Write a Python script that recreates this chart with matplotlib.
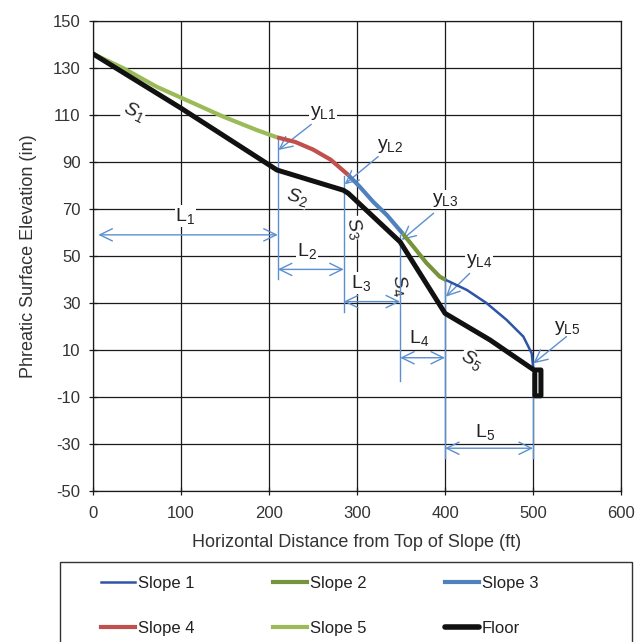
import matplotlib
matplotlib.use("Agg")
import matplotlib.pyplot as plt
from matplotlib.lines import Line2D
from matplotlib.patches import Rectangle

plt.rcParams['font.family'] = ['Liberation Sans', 'DejaVu Sans']
plt.rcParams['mathtext.fontset'] = 'custom'
plt.rcParams['mathtext.rm'] = 'Liberation Sans'
plt.rcParams['mathtext.it'] = 'Liberation Sans:italic'
plt.rcParams['axes.unicode_minus'] = False

# ---- data ----
slope5_x = [0, 34.5, 72.4, 110, 148, 186, 209]
slope5_y = [136, 129.9, 122, 115.7, 109.3, 103.6, 100.5]
slope4_x = [209, 230, 250, 270, 290]
slope4_y = [100.5, 98.5, 95.3, 91, 84.5]
slope3_x = [290, 303, 318.5, 334, 352]
slope3_y = [84.5, 79.5, 73, 67.4, 59.5]
slope2_x = [352, 364, 379, 394, 401]
slope2_y = [59.5, 54, 47, 41.2, 39.8]
slope1_x = [401, 425, 447, 470, 489, 498.5, 500.5]
slope1_y = [39.8, 35.5, 30, 22.8, 15.7, 8.6, 1.5]
floor_x = [0, 100, 209, 246.6, 284.4, 290, 349, 400, 451, 501, 509, 509, 502, 502]
floor_y = [136, 112.9, 86.6, 82.3, 78, 76.7, 56, 25.6, 14.3, 1.5, 1.5, -9.5, -9.5, 0]

# annotation geometry
vlines_x = [210, 285, 349, 400, 500]
vlines_top = [100.5, 84, 59, 40, 1]
vlines_bot = [40, 26, -3, -36, -36]
L_y = [59, 44.3, 30.6, 6.7, -31.8]
L_x0 = [6, 210, 285, 349, 400]
L_x1 = [210, 285, 349, 400, 500]
L_lab_x = [105, 243, 305, 370, 446]
L_lab_y = [67, 52, 38.4, 15, -25]
yL_lab_x = [261, 338, 400, 439, 539]
yL_lab_y = [111, 97, 74, 48, 19.5]
yL_from_x = [248, 324, 387, 428, 538]
yL_from_y = [106, 92.3, 68.2, 42.6, 15.7]
yL_to_x = [210.6, 286, 350.8, 401, 500.4]
yL_to_y = [95.1, 80.5, 56.8, 32.7, 4.3]
S_x = [47, 231.5, 297.7, 349, 430]
S_y = [111.3, 75.2, 61.8, 37.7, 5.7]
S_rot = [-25, -15, -75, -80, -30]

fig = plt.figure(figsize=(6.38, 6.42), dpi=100)
ax = fig.add_axes([0.1458, 0.2352, 0.8276, 0.7321])

ax.set_xlim(0, 600)
ax.set_ylim(-50, 150)
ax.set_xticks(range(0, 601, 100))
ax.set_yticks(range(-50, 151, 20))
ax.grid(True, color='#1a1a1a', linewidth=0.9, zorder=0)
ax.set_axisbelow(True)
for s in ax.spines.values():
    s.set_color('#1a1a1a')
    s.set_linewidth(0.9)
ax.tick_params(direction='inout', length=6, width=0.9, colors='#1a1a1a',
               labelsize=12, labelcolor='#333333')
ax.tick_params(axis='x', pad=8)
ax.tick_params(axis='y', pad=6)
ax.set_xlabel('Horizontal Distance from Top of Slope (ft)', fontsize=13,
              color='#333333', labelpad=9)
ax.set_ylabel('Phreatic Surface Elevation (in)', fontsize=13,
              color='#333333', labelpad=11)

acol = '#5b8fd0'
# vertical annotation lines
for x, t, b in zip(vlines_x, vlines_top, vlines_bot):
    ax.plot([x, x], [t, b], color=acol, lw=1.0, zorder=4)

# L arrows
for x0, x1, y in zip(L_x0, L_x1, L_y):
    ax.annotate('', xy=(x1, y), xytext=(x0, y),
                arrowprops=dict(arrowstyle='<->,head_length=0.45,head_width=0.22',
                                color=acol, lw=1.0, shrinkA=0, shrinkB=0,
                                mutation_scale=20), zorder=4)
for i, (x, y) in enumerate(zip(L_lab_x, L_lab_y)):
    ax.text(x, y, r'$\mathrm{L}_{\mathrm{%d}}$' % (i + 1), fontsize=14,
            ha='center', va='center', color='#222222',
            bbox=dict(fc='white', ec='none', pad=0.5), zorder=2)

# yL pointers
for i in range(5):
    ax.annotate('', xy=(yL_to_x[i], yL_to_y[i]), xytext=(yL_from_x[i], yL_from_y[i]),
                arrowprops=dict(arrowstyle='->,head_length=0.45,head_width=0.22',
                                color=acol, lw=1.0, shrinkA=0, shrinkB=0,
                                mutation_scale=20), zorder=4)
    ax.text(yL_lab_x[i], yL_lab_y[i], r'$\mathrm{y}_{\mathrm{L%d}}$' % (i + 1),
            fontsize=14, ha='center', va='center', color='#222222',
            bbox=dict(fc='white', ec='none', pad=0.5), zorder=2)

# S labels
for i in range(5):
    ax.text(S_x[i], S_y[i], r'$S_{\mathrm{%d}}$' % (i + 1), fontsize=14,
            rotation=S_rot[i], ha='center', va='center', color='#222222',
            rotation_mode='anchor',
            bbox=dict(fc='white', ec='none', pad=0.3), zorder=2)

# data lines
lw_s = 3.0
l5, = ax.plot(slope5_x, slope5_y, color='#9bbb59', lw=lw_s, zorder=5, solid_capstyle='butt')
l4, = ax.plot(slope4_x, slope4_y, color='#c0504d', lw=lw_s, zorder=5, solid_capstyle='butt')
l3, = ax.plot(slope3_x, slope3_y, color='#4f81bd', lw=lw_s, zorder=5, solid_capstyle='butt')
l2, = ax.plot(slope2_x, slope2_y, color='#77933c', lw=lw_s, zorder=5, solid_capstyle='butt')
l1, = ax.plot(slope1_x, slope1_y, color='#2e54a8', lw=1.8, zorder=5, solid_capstyle='butt')
lf, = ax.plot(floor_x, floor_y, color='#111111', lw=3.6, zorder=6,
              solid_joinstyle='round', solid_capstyle='round')

# legend
handles = [Line2D([], [], color='#2e54a8', lw=1.8),
           Line2D([], [], color='#c0504d', lw=lw_s),
           Line2D([], [], color='#77933c', lw=lw_s),
           Line2D([], [], color='#9bbb59', lw=lw_s),
           Line2D([], [], color='#4f81bd', lw=lw_s),
           Line2D([], [], color='#111111', lw=4.0, solid_capstyle='round')]
labels = ['Slope 1', 'Slope 4', 'Slope 2', 'Slope 5', 'Slope 3', 'Floor']
fig.legend(handles, labels, ncol=3, loc='upper left',
           bbox_to_anchor=(0.158, 0.1033), frameon=False, fontsize=12,
           handlelength=2.04, handletextpad=0.18, columnspacing=4.7,
           labelspacing=1.81, borderpad=0, borderaxespad=0,
           labelcolor='#222222')
fig.patches.append(Rectangle((60 / 638, -0.05), (632 - 60) / 638, 0.05 + 80 / 642,
                             transform=fig.transFigure, fill=False,
                             ec='#333333', lw=1.0))

fig.savefig('out.png', dpi=100)
